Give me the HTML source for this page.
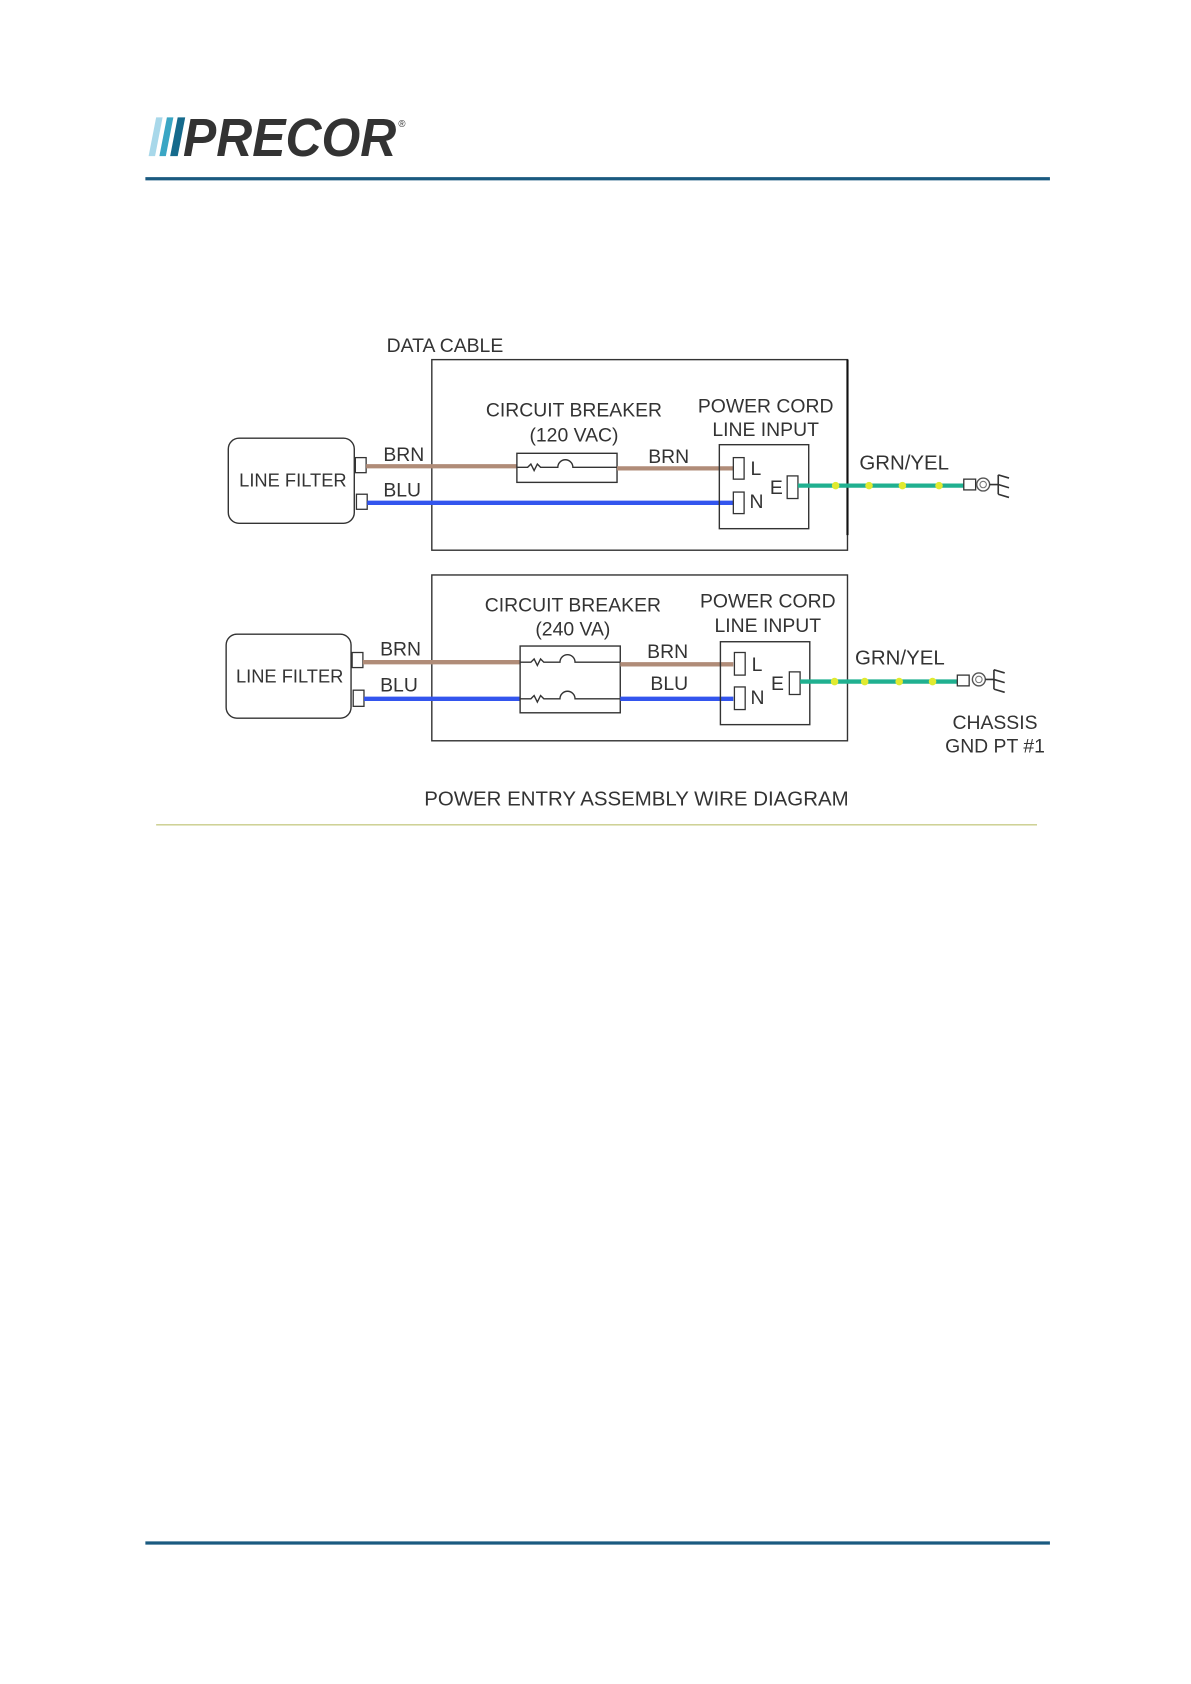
<!DOCTYPE html>
<html><head><meta charset="utf-8"><style>
html,body{margin:0;padding:0;background:#fff;}
svg{display:block;}
text{font-family:"Liberation Sans",sans-serif;fill:#333;}
</style></head><body>
<svg width="1191" height="1684" viewBox="0 0 1106 1564" preserveAspectRatio="none" xmlns="http://www.w3.org/2000/svg">
<!-- Logo -->
<polygon points="145,109 151,109 144,145 138,145" fill="#a8d8ea"/>
<polygon points="155,109 161,109 154,145 148,145" fill="#3aa6c4"/>
<polygon points="165,109 172,109 165,145 158,145" fill="#156a8c"/>
<text x="170" y="145" font-size="50" font-weight="bold" font-style="italic" textLength="198" lengthAdjust="spacingAndGlyphs" style="fill:#333">PRECOR</text>
<text x="370" y="118" font-size="9" style="fill:#333">®</text>
<line x1="135" y1="166" x2="975" y2="166" stroke="#1a5a80" stroke-width="3"/>
<line x1="135" y1="1433" x2="975" y2="1433" stroke="#1a5a80" stroke-width="3"/>

<g font-size="18">
<!-- TOP DIAGRAM -->
<text x="359" y="327">DATA CABLE</text>
<rect x="401" y="334" width="386" height="177" fill="none" stroke="#333" stroke-width="1.3"/>
<line x1="787" y1="334" x2="787" y2="497" stroke="#111" stroke-width="2"/>
<rect x="212" y="407" width="117" height="79" rx="10" fill="none" stroke="#333" stroke-width="1.3"/>
<text x="272" y="452" text-anchor="middle" font-size="17">LINE FILTER</text>
<rect x="330" y="425" width="10" height="14" fill="#fff" stroke="#333" stroke-width="1.2"/>
<rect x="331" y="459" width="10" height="14" fill="#fff" stroke="#333" stroke-width="1.2"/>
<line x1="340" y1="433" x2="480" y2="433" stroke="#b08c78" stroke-width="4"/>
<line x1="341" y1="467" x2="681" y2="467" stroke="#3355ee" stroke-width="4"/>
<text x="356" y="428">BRN</text>
<text x="356" y="461">BLU</text>
<rect x="480" y="421" width="93" height="27" fill="#fff" stroke="#333" stroke-width="1.3"/>
<path d="M480,434 H490 l3,-3 l3,6 l3,-6 l3,3 H518 a7,7 0 0 1 14,0 H573" fill="none" stroke="#333" stroke-width="1.3"/>
<line x1="573" y1="435" x2="681" y2="435" stroke="#b08c78" stroke-width="4"/>
<text x="602" y="430">BRN</text>
<text x="533" y="387" text-anchor="middle">CIRCUIT BREAKER</text>
<text x="533" y="410" text-anchor="middle">(120 VAC)</text>
<text x="711" y="383" text-anchor="middle">POWER CORD</text>
<text x="711" y="405" text-anchor="middle">LINE INPUT</text>
<rect x="668" y="413" width="83" height="78" fill="none" stroke="#333" stroke-width="1.3"/>
<rect x="681" y="425" width="10" height="20" fill="#fff" stroke="#333" stroke-width="1.2"/>
<text x="697" y="441">L</text>
<rect x="681" y="457" width="10" height="20" fill="#fff" stroke="#333" stroke-width="1.2"/>
<text x="696" y="472">N</text>
<text x="715" y="459">E</text>
<rect x="731" y="442" width="10" height="21" fill="#fff" stroke="#333" stroke-width="1.2"/>
<line x1="741" y1="451" x2="895" y2="451" stroke="#20b090" stroke-width="4"/>
<g fill="#e0ea30"><circle cx="776" cy="451" r="3.5"/><circle cx="807" cy="451" r="3.5"/><circle cx="838" cy="451" r="3.5"/><circle cx="872" cy="451" r="3.5"/></g>
<text x="798" y="436" font-size="19">GRN/YEL</text>
<rect x="895" y="445" width="11" height="10" fill="#fff" stroke="#333" stroke-width="1.2"/>
<circle cx="913" cy="450" r="6" fill="none" stroke="#555" stroke-width="1.3"/><circle cx="913" cy="450" r="3" fill="none" stroke="#777"/>
<path d="M919,450 H927 M927,441 V459 M927,441 l10,3 M927,450 l10,3 M927,459 l10,3" stroke="#333" stroke-width="1.5" fill="none"/>

<!-- BOTTOM DIAGRAM -->
<rect x="401" y="534" width="386" height="154" fill="none" stroke="#333" stroke-width="1.3"/>
<rect x="210" y="589" width="116" height="78" rx="10" fill="none" stroke="#333" stroke-width="1.3"/>
<text x="269" y="634" text-anchor="middle" font-size="17">LINE FILTER</text>
<rect x="327" y="606" width="10" height="14" fill="#fff" stroke="#333" stroke-width="1.2"/>
<rect x="328" y="641" width="10" height="15" fill="#fff" stroke="#333" stroke-width="1.2"/>
<line x1="337" y1="615" x2="483" y2="615" stroke="#b08c78" stroke-width="4"/>
<line x1="338" y1="649" x2="483" y2="649" stroke="#3355ee" stroke-width="4"/>
<text x="353" y="609">BRN</text>
<text x="353" y="642">BLU</text>
<rect x="483" y="600" width="93" height="62" fill="#fff" stroke="#333" stroke-width="1.3"/>
<path d="M483,615 H493 l3,-3 l3,6 l3,-6 l3,3 H520 a7,7 0 0 1 14,0 H576" fill="none" stroke="#333" stroke-width="1.3"/>
<path d="M483,649 H493 l3,-3 l3,6 l3,-6 l3,3 H520 a7,7 0 0 1 14,0 H576" fill="none" stroke="#333" stroke-width="1.3"/>
<line x1="576" y1="617" x2="681" y2="617" stroke="#b08c78" stroke-width="4"/>
<line x1="576" y1="649" x2="681" y2="649" stroke="#3355ee" stroke-width="4"/>
<text x="601" y="611">BRN</text>
<text x="604" y="641">BLU</text>
<text x="532" y="568" text-anchor="middle">CIRCUIT BREAKER</text>
<text x="532" y="590" text-anchor="middle">(240 VA)</text>
<text x="713" y="564" text-anchor="middle">POWER CORD</text>
<text x="713" y="587" text-anchor="middle">LINE INPUT</text>
<rect x="669" y="596" width="83" height="77" fill="none" stroke="#333" stroke-width="1.3"/>
<rect x="682" y="606" width="10" height="21" fill="#fff" stroke="#333" stroke-width="1.2"/>
<text x="698" y="623">L</text>
<rect x="682" y="638" width="10" height="21" fill="#fff" stroke="#333" stroke-width="1.2"/>
<text x="697" y="654">N</text>
<text x="716" y="641">E</text>
<rect x="733" y="624" width="10" height="21" fill="#fff" stroke="#333" stroke-width="1.2"/>
<line x1="743" y1="633" x2="889" y2="633" stroke="#20b090" stroke-width="4"/>
<g fill="#e0ea30"><circle cx="775" cy="633" r="3.5"/><circle cx="803" cy="633" r="3.5"/><circle cx="835" cy="633" r="3.5"/><circle cx="866" cy="633" r="3.5"/></g>
<text x="794" y="617" font-size="19">GRN/YEL</text>
<rect x="889" y="627" width="11" height="10" fill="#fff" stroke="#333" stroke-width="1.2"/>
<circle cx="909" cy="631" r="6" fill="none" stroke="#555" stroke-width="1.3"/><circle cx="909" cy="631" r="3" fill="none" stroke="#777"/>
<path d="M915,631 H923 M923,622 V640 M923,622 l10,3 M923,631 l10,3 M923,640 l10,3" stroke="#333" stroke-width="1.5" fill="none"/>
<text x="924" y="677" text-anchor="middle">CHASSIS</text>
<text x="924" y="699" text-anchor="middle">GND PT #1</text>
<text x="591" y="748" text-anchor="middle" font-size="19">POWER ENTRY ASSEMBLY WIRE DIAGRAM</text>
</g>
<line x1="145" y1="766" x2="963" y2="766" stroke="#c8cc88" stroke-width="1.3"/>
</svg>
</body></html>
